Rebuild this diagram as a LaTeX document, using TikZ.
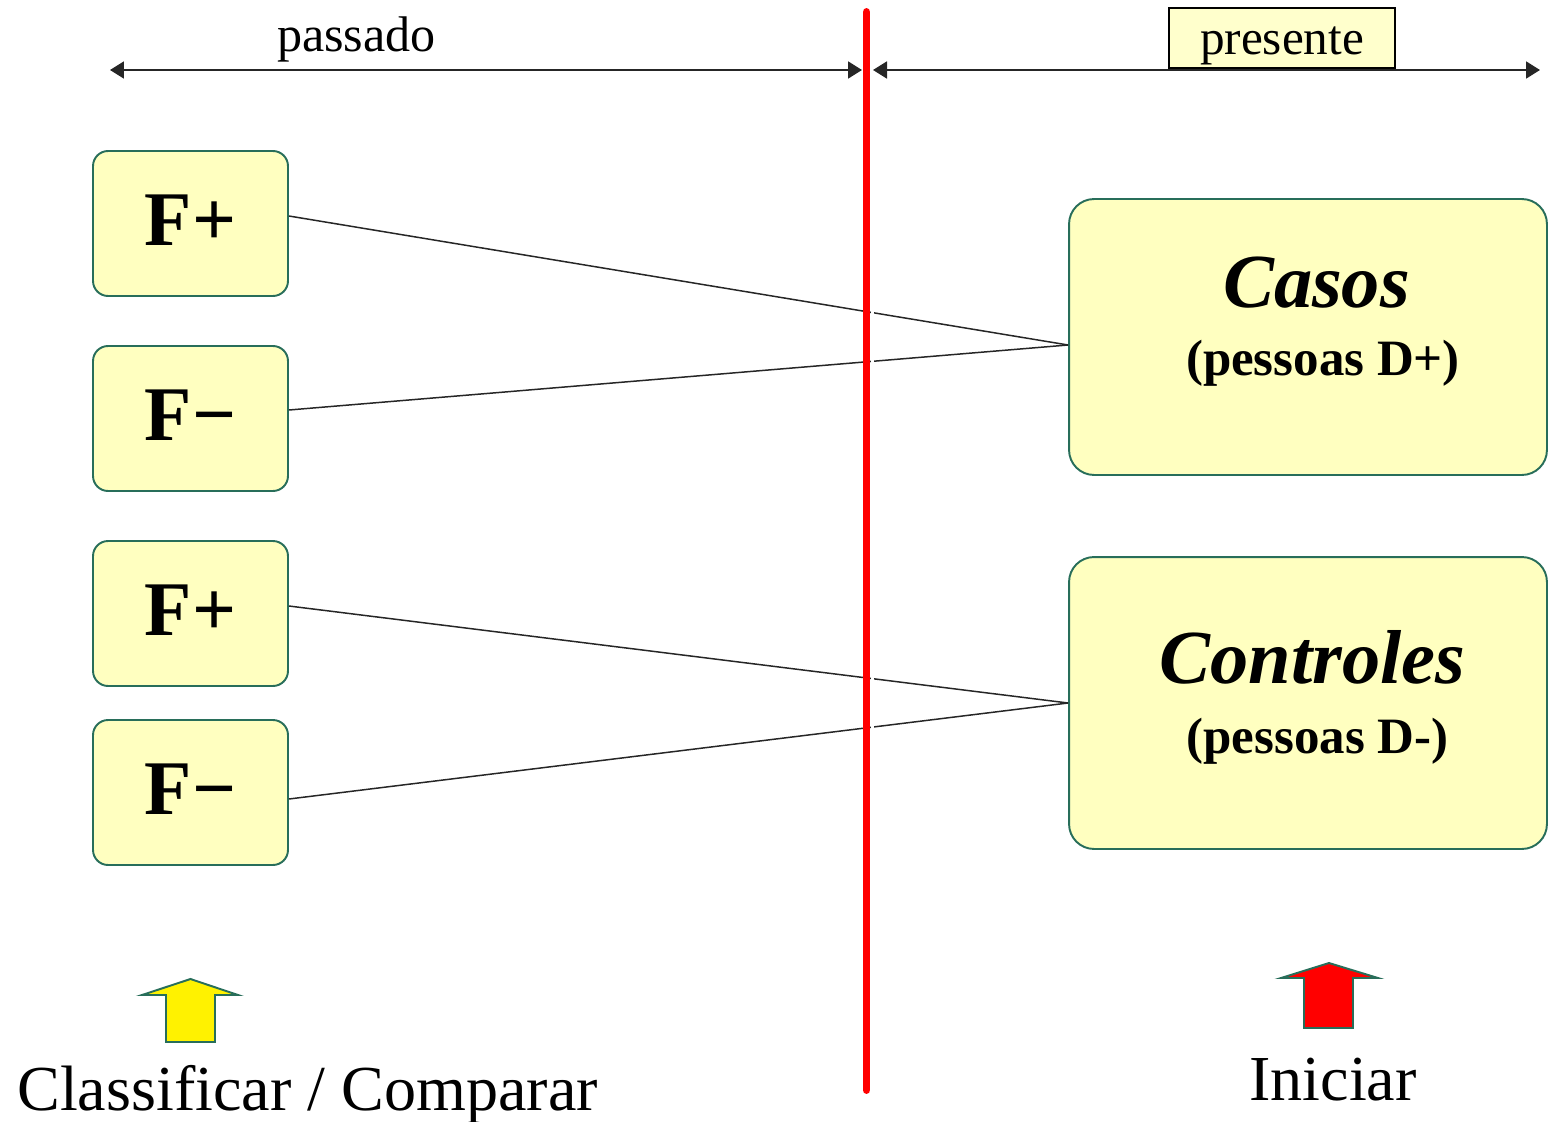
\documentclass[tikz,border=0pt]{standalone}
\usepackage{fontspec}
\setmainfont{Liberation Serif}
\usetikzlibrary{arrows.meta}
\definecolor{boxfill}{RGB}{255,255,192}
\definecolor{boxline}{RGB}{40,110,90}
\definecolor{tagfill}{RGB}{255,255,204}
\begin{document}
\begin{tikzpicture}[x=0.02cm,y=-0.02cm,
  fbox/.style={draw=boxline, line width=1.1pt, fill=boxfill, rounded corners=0.3cm,
    minimum width=3.9cm, minimum height=2.9cm, inner sep=0pt,
    text height=0.87cm, text depth=0cm,
    font=\fontsize{44}{44}\selectfont\bfseries},
  groupbox/.style={draw=boxline, line width=1.1pt, fill=boxfill, rounded corners=0.5cm,
    minimum width=9.56cm, inner sep=0pt},
  grouptitle/.style={anchor=base, inner sep=0pt, font=\fontsize{43.5}{43.5}\selectfont\bfseries\itshape},
  groupsub/.style={anchor=base, inner sep=0pt, font=\fontsize{29}{29}\selectfont\bfseries},
  conn/.style={draw=black!85, line width=0.85pt},
  timeline/.style={draw=black!85, line width=1.1pt,
    {Triangle[length=0.28cm,width=0.34cm]}-{Triangle[length=0.28cm,width=0.34cm]}},
  tag/.style={draw=black, line width=1.1pt, fill=tagfill, minimum width=4.52cm,
    minimum height=1.2cm, inner sep=0pt, text height=0.68cm, text depth=0cm,
    font=\fontsize{28}{28}\selectfont},
  axislabel/.style={anchor=base, inner sep=0pt, font=\fontsize{28.5}{28.5}\selectfont},
  steplabel/.style={anchor=base, inner sep=0pt, font=\fontsize{36.5}{36.5}\selectfont},
  uparrow/.style={draw=boxline, line width=1.1pt, line join=miter}
]
\useasboundingbox (0,0) rectangle (1548,1122);

% time axis: past and present
\coordinate (pastL) at (110,70);
\coordinate (pastR) at (862,70);
\coordinate (presL) at (873,70);
\coordinate (presR) at (1540,70);
\draw[timeline] (pastL) -- (pastR);
\draw[timeline] (presL) -- (presR);
\node[axislabel] (passado) at (356.5,52) {passado};
\node[tag] (presente) at (1282,38) {presente};

% exposure boxes
\node[fbox] (f1) at (190.5,223.5) {F+};
\node[fbox] (f2) at (190.5,418.5) {F−};
\node[fbox] (f3) at (190.5,613.5) {F+};
\node[fbox] (f4) at (190.5,792.5) {F−};

% study groups
\node[groupbox, minimum height=5.52cm] (casos) at (1308,337) {};
\node[grouptitle] (casosT) at (1316.5,307) {Casos};
\node[groupsub] (casosS) at (1323,375) {(pessoas D+)};
\node[groupbox, minimum height=5.84cm] (controles) at (1308,703) {};
\node[grouptitle] (controlesT) at (1312.5,683) {Controles};
\node[groupsub] (controlesS) at (1317.5,753) {(pessoas D-)};

% links from groups back to exposure
\draw[conn] ([yshift=0.15cm]f1.east) -- ([yshift=-0.16cm]casos.west);
\draw[conn] ([yshift=0.17cm]f2.east) -- ([yshift=-0.16cm]casos.west);
\draw[conn] ([yshift=0.15cm]f3.east) -- (controles.west);
\draw[conn] ([yshift=-0.13cm]f4.east) -- (controles.west);

% present-time divider
\coordinate (nowT) at (866.5,12);
\coordinate (nowB) at (866.5,1090);
\draw[white, line width=1.7pt] (872,110) -- (872,1000);
\draw[red, line width=4.5pt, line cap=round] (nowT) -- (nowB);

% block arrows with their actions
\draw[uparrow, fill=yellow] (190.5,979) -- (238,995) -- (215,995) -- (215,1042)
  -- (166,1042) -- (166,995) -- (142,995) -- cycle;
\draw[uparrow, fill=red] (1329,963) -- (1378,978) -- (1353,978) -- (1353,1028)
  -- (1304,1028) -- (1304,978) -- (1281,978) -- cycle;
\node[steplabel] (classificar) at (307.5,1110) {Classificar / Comparar};
\node[steplabel] (iniciar) at (1333,1100) {Iniciar};
\end{tikzpicture}
\end{document}
